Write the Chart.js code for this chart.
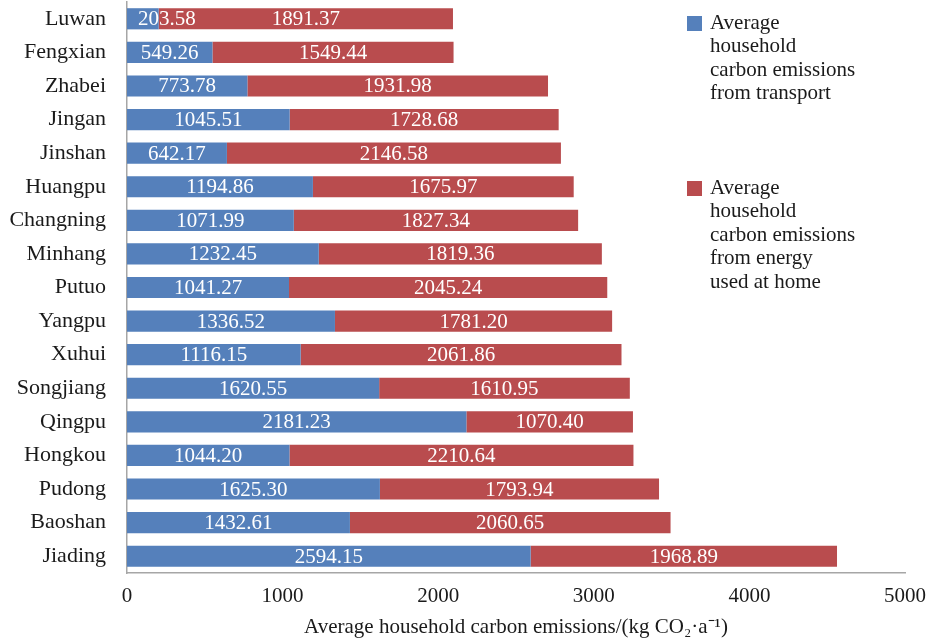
<!DOCTYPE html>
<html>
<head>
<meta charset="utf-8">
<script src="https://cdn.jsdelivr.net/npm/chart.js@4"></script>
<style>
  html, body { margin: 0; padding: 0; background: #fff; }
  #wrap { width: 926px; height: 642px; position: relative; }
</style>
</head>
<body>
<div id="wrap"><canvas id="c" width="926" height="642"></canvas></div>
<script>
const categories = ["Luwan","Fengxian","Zhabei","Jingan","Jinshan","Huangpu","Changning","Minhang","Putuo","Yangpu","Xuhui","Songjiang","Qingpu","Hongkou","Pudong","Baoshan","Jiading"];
const transport = [203.58,549.26,773.78,1045.51,642.17,1194.86,1071.99,1232.45,1041.27,1336.52,1116.15,1620.55,2181.23,1044.20,1625.30,1432.61,2594.15];
const homeEnergy = [1891.37,1549.44,1931.98,1728.68,2146.58,1675.97,1827.34,1819.36,2045.24,1781.20,2061.86,1610.95,1070.40,2210.64,1793.94,2060.65,1968.89];
const seriesNames = ["Average household carbon emissions from transport","Average household carbon emissions from energy used at home"];
const legendLines = [["Average","household","carbon emissions","from transport"],["Average","household","carbon emissions","from energy","used at home"]];
const xTicks = [0,1000,2000,3000,4000,5000];
const axisTitle = "Average household carbon emissions/(kg CO\u2082\u00B7a\u207B\u00B9)";

const FONT = "'Liberation Serif', 'Times New Roman', serif";
const colors = ["#5580BB", "#B94C4E"];

const labelPlugin = {
  id: 'segLabels',
  afterDatasetsDraw(chart) {
    const ctx = chart.ctx;
    ctx.save();
    ctx.font = "21px " + FONT;
    ctx.fillStyle = "#ffffff";
    ctx.textAlign = "center";
    ctx.textBaseline = "middle";
    chart.data.datasets.forEach((ds, di) => {
      const meta = chart.getDatasetMeta(di);
      meta.data.forEach((bar, i) => {
        const txt = ds.data[i].toFixed(2);
        const left = Math.min(bar.x, bar.base);
        const right = Math.max(bar.x, bar.base);
        const w = ctx.measureText(txt).width;
        let x = (left + right) / 2;
        if (x - w / 2 < left + 11) x = left + 11 + w / 2;
        ctx.fillText(txt, x, bar.y + 1);
      });
    });
    ctx.restore();
  }
};

const legendPlugin = {
  id: 'sideLegend',
  afterDraw(chart) {
    const ctx = chart.ctx;
    ctx.save();
    ctx.font = "21px " + FONT;
    ctx.textBaseline = "middle";
    ctx.textAlign = "left";
    const starts = [23, 188];
    chart.data.datasets.forEach((ds, di) => {
      const y0 = starts[di];
      ctx.fillStyle = ds.backgroundColor;
      ctx.fillRect(687, y0 - 7, 15, 15);
      ctx.fillStyle = "#1a1a1a";
      legendLines[di].forEach((ln, k) => {
        ctx.fillText(ln, 710, y0 + k * 23.5);
      });
    });
    ctx.restore();
  }
};

new Chart(document.getElementById('c'), {
  type: 'bar',
  data: {
    labels: categories,
    datasets: [
      { label: seriesNames[0], data: transport, backgroundColor: colors[0], barPercentage: 0.63, categoryPercentage: 1.0 },
      { label: seriesNames[1], data: homeEnergy, backgroundColor: colors[1], barPercentage: 0.63, categoryPercentage: 1.0 }
    ]
  },
  options: {
    indexAxis: 'y',
    responsive: false,
    animation: false,
    layout: { padding: { top: 2, right: 21, left: 0, bottom: 0 } },
    plugins: { legend: { display: false }, tooltip: { enabled: false } },
    scales: {
      x: {
        stacked: true,
        min: 0, max: 5000,
        afterBuildTicks(scale) { scale.ticks = xTicks.map(v => ({ value: v })); },
        grid: { display: false, drawTicks: false },
        border: { display: true, color: "#a6a6a6", width: 1.5 },
        ticks: { color: "#1a1a1a", font: { family: FONT, size: 21 }, padding: 11, maxRotation: 0,
                 callback: (v) => String(v) },
        title: { display: true, text: axisTitle, color: "#1a1a1a", font: { family: FONT, size: 21 }, padding: { top: 4, bottom: 2 } },
        afterFit(scale) { scale.height = 69; scale.paddingLeft = 0; scale.paddingRight = 0; }
      },
      y: {
        stacked: true,
        grid: { display: false, drawTicks: false },
        border: { display: true, color: "#a6a6a6", width: 1.5 },
        ticks: { color: "#1a1a1a", font: { family: FONT, size: 22 }, padding: 21, autoSkip: false },
        afterFit(scale) { scale.width = 127; scale.paddingTop = 0; scale.paddingBottom = 0; }
      }
    }
  },
  plugins: [labelPlugin, legendPlugin]
});
</script>
</body>
</html>
